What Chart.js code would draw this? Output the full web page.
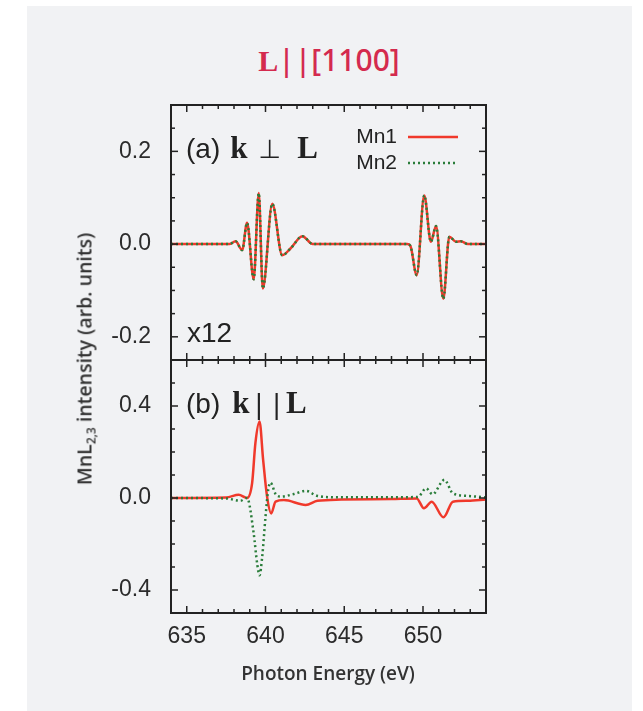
<!DOCTYPE html>
<html>
<head>
<meta charset="utf-8">
<script src="https://cdn.jsdelivr.net/npm/chart.js@4.4.1/dist/chart.umd.min.js"></script>
<style>
  html, body { margin: 0; padding: 0; background: #ffffff; width: 643px; height: 711px; overflow: hidden; }
  #panel { position: absolute; left: 27px; top: 6px; width: 605px; height: 705px; background: #f1f2f4; }
  canvas { position: absolute; left: 0; top: 0; }
  .txt { position: absolute; white-space: nowrap; color: #222; }
  #title { position: absolute; left: 0; width: 658px; top: 40px; text-align: center; color: #d42a4e; font-size: 30px; line-height: 40px; }
  #title .L { font-family: "Liberation Serif", "DejaVu Serif", serif; font-weight: bold; }
  #title .rest { font-family: "Noto Sans", "DejaVu Sans", sans-serif; font-weight: 500; }
  .ann { font-family: "Liberation Sans", Arial, sans-serif; font-size: 28px; line-height: 32px; }
  .ser { font-family: "Liberation Serif", "DejaVu Serif", serif; font-weight: bold; font-size: 31px; }
  .thin { font-family: "DejaVu Sans", sans-serif; font-weight: normal; font-size: 26px; }
  #ytitle { position: absolute; left: 85px; top: 359px; transform: translate(-50%, -50%) rotate(-90deg); font-family: "Open Sans", sans-serif; font-weight: 600; font-size: 19.5px; color: #333; white-space: nowrap; }
  #ytitle sub { font-size: 12px; vertical-align: -4px; }
  #xtitle { position: absolute; left: 0; width: 656px; top: 661px; text-align: center; font-family: "Open Sans", sans-serif; font-weight: 600; font-size: 19px; color: #333; line-height: 24px; }
</style>
</head>
<body>
<div id="panel"></div>
<div id="title"><span class="L">L</span><span class="rest">||[1100]</span></div>
<canvas id="chartA" width="643" height="711"></canvas>
<canvas id="chartB" width="643" height="711"></canvas>
<div class="txt ann" style="left:186px; top:132px;">(a)<span class="ser" style="margin-left:10px;">k</span><span class="thin" style="margin-left:11px;">⊥</span><span class="ser" style="margin-left:16px;">L</span></div>
<div class="txt ann" style="left:187px; top:317px;">x12</div>
<div class="txt ann" style="left:186px; top:387px;">(b)<span class="ser" style="margin-left:12px;">k</span><span class="thin" style="margin-left:5px;">|</span><span class="thin" style="margin-left:9px;">|</span><span class="ser" style="margin-left:5px;">L</span></div>
<div id="ytitle">MnL<sub>2,3</sub> intensity (arb. units)</div>
<div id="xtitle">Photon Energy (eV)</div>
<script>
// ---------- data ----------
const energyTicks = [635, 640, 645, 650];
const yTicksA = [-0.2, 0.0, 0.2];
const yTicksB = [-0.4, 0.0, 0.4];
const seriesNames = ['Mn1', 'Mn2'];

// panel (a): k perpendicular to L (x12), Mn1 and Mn2 coincide
const aEnergy = [634, 637.7, 638.1, 638.52, 638.83, 639.25, 639.57, 639.83, 640.43, 641.06, 641.6, 642.34, 643.0,
                 649.0, 649.2, 649.6, 650.08, 650.5, 650.83, 651.29, 651.67, 652.1, 652.4, 652.85, 654];
const aMn1 = [0, 0, 0.006, -0.013, 0.046, -0.076, 0.110, -0.096, 0.087, -0.024, -0.009, 0.017, 0,
              0, -0.004, -0.067, 0.105, 0.005, 0.039, -0.118, 0.016, 0.005, 0.006, 0, 0];
const aMn2 = [0, 0, 0.006, -0.013, 0.046, -0.076, 0.110, -0.096, 0.087, -0.024, -0.009, 0.017, 0,
              0, -0.004, -0.067, 0.105, 0.005, 0.039, -0.118, 0.016, 0.005, 0.006, 0, 0];

// panel (b): k parallel to L
const bEnergyMn1 = [634, 637.5, 638.3, 638.83, 639.15, 639.36, 639.62, 639.85, 640.1, 640.36, 640.64, 641.17, 642.55,
                    643.3, 644.8, 648.0, 649.6, 650.06, 650.55, 651.3, 651.9, 652.85, 654];
const bMn1 = [0, 0.002, 0.014, 0.0, 0.065, 0.24, 0.333, 0.166, 0.006, -0.067, -0.016, -0.009, -0.03,
              -0.012, -0.007, -0.004, -0.002, -0.045, -0.016, -0.084, -0.016, -0.012, -0.006];
const bEnergyMn2 = [634, 637.5, 638.4, 638.83, 639.25, 639.47, 639.62, 639.79, 640.0, 640.17, 640.32, 640.64, 640.96,
                    641.8, 642.55, 643.3, 644.6, 649.66, 650.2, 650.6, 651.36, 651.9, 652.85, 654];
const bMn2 = [0, -0.002, -0.012, 0.0, -0.154, -0.285, -0.336, -0.256, -0.082, 0.035, 0.067, 0.017, 0.006,
              0.017, 0.031, 0.009, 0.003, 0.004, 0.042, 0.016, 0.079, 0.02, 0.009, 0.003];

// ---------- styles ----------
const RED = '#f0392b';
const GREEN = '#2a7d3a';
const FRAME = '#222222';
const TICKFONT = { family: '"Liberation Sans", Arial, sans-serif', size: 23 };

function pts(xs, ys) { return xs.map((x, i) => ({ x: x, y: ys[i] })); }

function lineDs(label, data, color, dotted, order) {
  return {
    label: label, data: data, borderColor: color, backgroundColor: color,
    borderWidth: 2.5, borderDash: dotted ? [2, 3] : [], pointRadius: 0,
    cubicInterpolationMode: 'monotone', fill: false, order: order
  };
}

const frameTicks = {
  id: 'frameTicks',
  afterDatasetsDraw(chart, args, opts) {
    const ctx = chart.ctx;
    const { left, right, top, bottom } = chart.chartArea;
    const x = chart.scales.x, y = chart.scales.y;
    ctx.save();
    ctx.strokeStyle = FRAME;
    ctx.lineWidth = 1.5;
    const seg = (x1, y1, x2, y2) => { ctx.beginPath(); ctx.moveTo(x1, y1); ctx.lineTo(x2, y2); ctx.stroke(); };
    for (let e = Math.ceil(x.min); e <= x.max; e++) {
      if (e === x.min || e === x.max) continue;
      const px = x.getPixelForValue(e);
      const len = (e % 5 === 0) ? 7 : 4;
      seg(px, top, px, top + len);
      seg(px, bottom, px, bottom - len);
    }
    const step = opts.yStep;
    for (let k = Math.ceil(y.min / step - 1e-9); k <= Math.floor(y.max / step + 1e-9); k++) {
      const v = k * step;
      if (Math.abs(v - y.min) < 1e-9 || Math.abs(v - y.max) < 1e-9) continue;
      const py = y.getPixelForValue(v);
      const major = opts.yMajor.some(m => Math.abs(m - v) < 1e-9);
      const len = major ? 7 : 4;
      seg(left, py, left + len, py);
      seg(right, py, right - len, py);
    }
    ctx.lineWidth = 2;
    ctx.strokeRect(left, top, right - left, bottom - top);
    ctx.restore();
  }
};

const innerLegend = {
  id: 'innerLegend',
  afterDraw(chart, args, opts) {
    if (!opts.show) return;
    const ctx = chart.ctx;
    ctx.save();
    ctx.font = '21px "Liberation Sans", Arial, sans-serif';
    ctx.fillStyle = '#222';
    ctx.textAlign = 'right';
    ctx.textBaseline = 'middle';
    const rows = [137, 163];
    chart.data.datasets.forEach((ds) => {
      const yy = rows[seriesNames.indexOf(ds.label)];
      ctx.fillText(ds.label, 397, yy);
      ctx.strokeStyle = ds.borderColor;
      ctx.lineWidth = 2.5;
      ctx.setLineDash(ds.borderDash || []);
      ctx.beginPath(); ctx.moveTo(408, yy); ctx.lineTo(458, yy); ctx.stroke();
    });
    ctx.restore();
  }
};

const YW = 70;
const XH = 40;

function makeChart(id, datasets, yMin, yMax, yTicks, yStep, showX, padTop, padBottom, legendShow) {
  return new Chart(document.getElementById(id), {
    type: 'line',
    data: { datasets: datasets },
    plugins: [frameTicks, innerLegend],
    options: {
      responsive: false, animation: false, devicePixelRatio: 1,
      layout: { padding: { left: 171 - YW, right: 643 - 486, top: padTop, bottom: padBottom } },
      plugins: {
        legend: { display: false }, tooltip: { enabled: false }, title: { display: false },
        frameTicks: { yStep: yStep, yMajor: yTicks },
        innerLegend: { show: legendShow }
      },
      scales: {
        x: {
          type: 'linear', min: 634, max: 654, display: showX,
          grid: { display: false }, border: { display: false },
          ticks: { color: '#2b2b2b', font: TICKFONT, padding: 2, maxRotation: 0, autoSkip: false },
          afterBuildTicks: s => { s.ticks = energyTicks.map(v => ({ value: v })); },
          afterFit: s => { s.height = showX ? XH : 0; }
        },
        y: {
          type: 'linear', min: yMin, max: yMax,
          grid: { display: false }, border: { display: false },
          ticks: { color: '#2b2b2b', font: TICKFONT, padding: 12, callback: v => Number(v).toFixed(1) },
          afterBuildTicks: s => { s.ticks = yTicks.map(v => ({ value: v })); },
          afterFit: s => { s.width = YW; }
        }
      }
    }
  });
}

makeChart('chartA', [
  lineDs('Mn1', pts(aEnergy, aMn1), RED, false, 2),
  lineDs('Mn2', pts(aEnergy, aMn2), GREEN, true, 1)
], -0.25, 0.3, yTicksA, 0.05, false, 105, 711 - 360, true);

makeChart('chartB', [
  lineDs('Mn1', pts(bEnergyMn1, bMn1), RED, false, 2),
  lineDs('Mn2', pts(bEnergyMn2, bMn2), GREEN, true, 1)
], -0.5, 0.6, yTicksB, 0.1, true, 360, 711 - 613 - XH, false);
</script>
</body>
</html>
